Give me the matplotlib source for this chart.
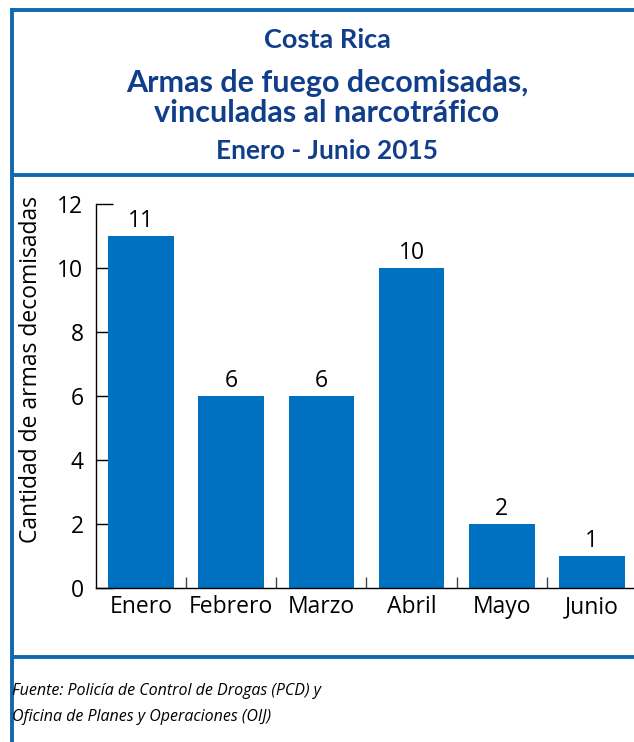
import matplotlib.pyplot as plt
from matplotlib.lines import Line2D

# data
meses = ['Enero', 'Febrero', 'Marzo', 'Abril', 'Mayo', 'Junio']
armas = [11, 6, 6, 10, 2, 1]
yticks = [0, 2, 4, 6, 8, 10, 12]

titulo = ['Costa Rica', 'Armas de fuego decomisadas,', 'vinculadas al narcotráfico', 'Enero - Junio 2015']
fuente = 'Fuente: Policía de Control de Drogas (PCD) y\nOficina de Planes y Operaciones (OIJ)'

bar_color = '#0070C0'
frame_color = '#1268AE'
title_color = '#113E8A'

W, H = 634, 742
fig = plt.figure(figsize=(W / 100, H / 100), dpi=100)

def fx(px):
    return px / W

def fy(py):
    return 1 - py / H

# frame lines around title / chart / source blocks
for (x0, y0, x1, y1) in [(12, 9.5, W, 9.5), (12, 175, W, 175), (12, 657, W, 657), (12, 8, 12, H)]:
    fig.add_artist(Line2D([fx(x0), fx(x1)], [fy(y0), fy(y1)], color=frame_color, lw=2.8,
                          solid_capstyle='butt'))

# titles
fig.text(fx(327), fy(40), titulo[0], ha='center', va='center', fontsize=19.5,
         fontweight='bold', family='Lato', color=title_color)
fig.text(fx(327), fy(83), titulo[1], ha='center', va='center', fontsize=22,
         fontweight='bold', family='Lato', color=title_color)
fig.text(fx(327), fy(113), titulo[2], ha='center', va='center', fontsize=22,
         fontweight='bold', family='Lato', color=title_color)
fig.text(fx(327), fy(151), titulo[3], ha='center', va='center', fontsize=19,
         fontweight='bold', family='Lato', color=title_color)

# chart
ax = fig.add_axes([fx(96), fy(588), (637 - 96) / W, (588 - 204) / H])
x = range(len(meses))
bars = ax.bar(x, armas, width=0.73, color=bar_color, zorder=2)
for b, v in zip(bars, armas):
    ax.text(b.get_x() + b.get_width() / 2, v + 0.1, str(v), ha='center', va='bottom',
            fontsize=16.5, family='Open Sans')

ax.set_xlim(-0.5, len(meses) - 0.5)
ax.set_ylim(0, 12)
ax.set_yticks(yticks)
ax.set_yticklabels([str(t) for t in yticks], family='Open Sans', fontsize=16.5)
ax.tick_params(axis='y', direction='in', length=12, width=1, pad=9)

ax.set_xticks(list(x))
ax.set_xticklabels(meses, family='Open Sans', fontsize=16.5)
ax.tick_params(axis='x', which='major', length=0, pad=5)
ax.set_xticks([i + 0.5 for i in x], minor=True)
ax.tick_params(axis='x', which='minor', direction='in', length=8, width=1, color='#444444')

for s in ['top', 'right']:
    ax.spines[s].set_visible(False)
for s in ['left', 'bottom']:
    ax.spines[s].set_linewidth(1)

ax.set_ylabel('Cantidad de armas decomisadas', family='Open Sans', fontsize=16.5)
ax.yaxis.set_label_coords(-0.098, 0.568)

# source note
fig.text(fx(12), fy(704), fuente, ha='left', va='center', fontsize=11.5,
         style='italic', family='Open Sans', linespacing=1.8)

fig.savefig('out.png', dpi=100)
